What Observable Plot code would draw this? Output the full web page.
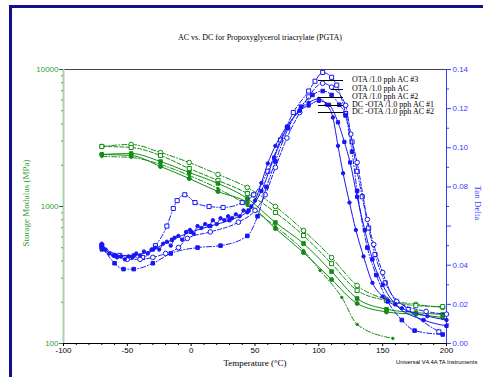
<!DOCTYPE html>
<html><head><meta charset="utf-8">
<script src="https://cdn.jsdelivr.net/npm/d3@7"></script>
<script src="https://cdn.jsdelivr.net/npm/@observablehq/plot@0.6"></script>
<style>
body{margin:0;background:#fff;overflow:hidden;}
#wrap{position:relative;width:483px;height:377px;overflow:hidden;}
#chart{position:absolute;left:0;top:0;}
.frame{position:absolute;left:9px;top:5px;width:600px;height:600px;border:3px solid #10108a;pointer-events:none;}
.t{position:absolute;font-family:"Liberation Serif","Times New Roman",serif;white-space:nowrap;line-height:1;}
.lg{position:absolute;height:0;border-top:1px solid #000;}
</style></head><body>
<div id="wrap">
<div id="chart"></div>
<div class="t" id="title" style="left:260px;top:34px;font-size:8px;transform:translateX(-50%);">AC vs. DC for Propoxyglycerol triacrylate (PGTA)</div>
<div class="t" style="left:255px;top:359px;font-size:9px;transform:translateX(-50%);">Temperature (°C)</div>
<div class="t" style="left:26px;top:203px;font-size:9px;color:#33a033;transform:translate(-50%,-50%) rotate(-90deg);">Storage Modulus (MPa)</div>
<div class="t" style="left:477px;top:203px;font-size:9px;color:#3b3bff;transform:translate(-50%,-50%) rotate(90deg);">Tan Delta</div>
<div class="t" style="left:396px;top:360px;font-size:5.8px;font-family:'Liberation Sans',Arial,sans-serif;">Universal V4.4A TA Instruments</div>
<div id="legend"></div>
<div class="frame"></div>
</div>
<script>
// ---- axis ticks ----
const xMajor = [-100, -50, 0, 50, 100, 150, 200];
const xMinor = [-90,-80,-70,-60,-40,-30,-20,-10,10,20,30,40,60,70,80,90,110,120,130,140,160,170,180,190];
const yMajor = [100, 1000, 10000];
const yMinor = [200,300,400,500,600,700,800,900,2000,3000,4000,5000,6000,7000,8000,9000];
const tanMajor = [0, 0.02, 0.04, 0.06, 0.08, 0.10, 0.12, 0.14];
const tanMinor = [0.01, 0.03, 0.05, 0.07, 0.09, 0.11, 0.13];

// ---- legend ----
const legendLabels = ["OTA /1.0 pph AC #3", "OTA /1.0 pph AC", "OTA /1.0 pph AC #2", "DC -OTA /1.0 pph AC #1", "DC -OTA /1.0 pph AC #2"];

// ---- storage modulus (MPa) ----
const greenT = [-70, -47, -24, -1.5, 21, 44, 66, 88, 110, 130, 153, 176, 197];
const g1V = [2742, 2835, 2478, 2094, 1713, 1377, 1000, 668, 424, 265, 210, 193, 183];
const g2V = [2742, 2696, 2356, 1893, 1549, 1244, 904, 614, 383, 244, 206, 189, 186];
const g3V = [2397, 2437, 2129, 1771, 1472, 1144, 764, 537, 335, 213, 178, 168, 163];
const g4V = [2397, 2356, 1960, 1600, 1286, 1069, 690, 461, 293, 196, 170, 163, 155];
const g5T = [-70, -47, -24, -1.5, 21, 44, 66, 88, 101, 118, 130, 158];
const g5V = [2317, 2279, 2027, 1684, 1353, 1016, 714, 477, 341, 217, 138, 109];

// ---- tan delta ----
const b1T = [-70,-56,-38,-28,-19,-14,-11,-5,3,14,25,40,49,60,70,80,92,97,103,110,114,121,126,130,134,139,144,152,170,194];
const b1V = [0.050,0.045,0.044,0.050,0.060,0.069,0.073,0.076,0.072,0.070,0.0695,0.072,0.076,0.088,0.104,0.118,0.129,0.134,0.1385,0.136,0.132,0.1175,0.103,0.088,0.075,0.059,0.0455,0.031,0.0174,0.006];
const b2T = [-70,-60,-50,-40,-30,-20,-10,-3,15,37,50,58,66,75,85,92,103,110,121,125,130,138,143,150,161,184,200];
const b2V = [0.049,0.045,0.043,0.043,0.044,0.046,0.049,0.0537,0.057,0.062,0.068,0.076,0.090,0.105,0.118,0.126,0.133,0.131,0.1217,0.107,0.0925,0.0634,0.0506,0.0363,0.0215,0.0164,0.015];
const b3T = [-70,-60,-53,-45,-30,-16,5,23,44,52,59,66,76,86,95,103,110,116,121,126,130,138,145,154,165,175,197];
const b3V = [0.050,0.041,0.038,0.038,0.041,0.046,0.049,0.050,0.055,0.065,0.080,0.093,0.110,0.121,0.127,0.129,0.127,0.122,0.1165,0.098,0.078,0.049,0.035,0.0215,0.012,0.0066,0.0046];
const b4T = [-70,-67,-64,-61,-58,-55,-52,-49,-46,-43,-40,-37,-34,-31,-28,-25,-22,-19,-16,-13,-10,-7,-4,-1,2,5,8,11,14,17,20,23,26,29,32,35,38,41,44,47,50,55,60,66,75,85,92,100,106,111,115,119,124,129,135,142,150,165,185,200];
const b4V = [0.051,0.048,0.046,0.045,0.044,0.0445,0.043,0.0445,0.044,0.046,0.045,0.047,0.046,0.048,0.049,0.048,0.051,0.052,0.050,0.054,0.055,0.053,0.057,0.058,0.056,0.060,0.059,0.061,0.060,0.063,0.061,0.064,0.063,0.065,0.064,0.066,0.065,0.068,0.067,0.070,0.073,0.082,0.092,0.101,0.111,0.119,0.123,0.125,0.122,0.1155,0.101,0.087,0.072,0.058,0.0445,0.031,0.024,0.018,0.014,0.012];
const b5T = [-70,-60,-45,-30,-15,0,15,30,45,55,65,75,85,92,100,108,115,120,124.5,130,136,142,150,160,182,200];
const b5V = [0.048,0.045,0.045,0.048,0.053,0.057,0.060,0.063,0.068,0.078,0.095,0.110,0.119,0.1216,0.124,0.122,0.113,0.103,0.0925,0.075,0.058,0.043,0.030,0.020,0.012,0.009];

// tan delta 0..0.14 shares the log frame 100..10000
const toY = t => 10 ** (2 + t / 0.07);
const fromY = y => (Math.log10(y) - 2) * 0.07;

const green = "#138c13", blue = "#1717f5";
const DASH = "4,2", DASHDOT = "5,2,1,2";

function rows(T, V, tan) { return T.map((t, i) => ({x: t, y: tan ? toY(V[i]) : V[i]})); }

function seriesMarks(data, color, dash, symbol, filled, r) {
  return [
    Plot.line(data, {x: "x", y: "y", stroke: color, strokeWidth: 1, strokeDasharray: dash, curve: "monotone-x"}),
    Plot.dot(data, {x: "x", y: "y", symbol, r, stroke: color, strokeWidth: 1, fill: filled ? color : "white"})
  ];
}

const chart = Plot.plot({
  width: 483, height: 377,
  marginLeft: 63, marginRight: 37, marginTop: 69, marginBottom: 34,
  x: {domain: [-100, 200]},
  y: {type: "log", domain: [100, 10000]},
  style: {fontFamily: "'Liberation Sans', Arial, sans-serif", fontSize: "8px", background: "transparent", overflow: "visible"},
  marks: [
    // frame
    Plot.ruleY([10000], {stroke: "#444"}),
    Plot.ruleY([100], {stroke: "#000"}),
    Plot.ruleX([-100], {stroke: "#a6d8a6", strokeWidth: 2}),
    Plot.ruleX([200], {stroke: "#3b3bff"}),
    // axes
    Plot.axisX({ticks: xMajor, tickSize: 3, tickPadding: 1, tickFormat: d => d, label: null, stroke: "#000", fill: "#000"}),
    Plot.axisX({ticks: xMinor, tickSize: 2, tickFormat: () => "", label: null, stroke: "#000"}),
    Plot.axisY({ticks: yMajor, tickSize: 4, tickPadding: 1, tickFormat: d => String(d), label: null, stroke: "#555", fill: "#33a033"}),
    Plot.axisY({ticks: yMinor, tickSize: 2, tickFormat: () => "", label: null, stroke: "#888"}),
    Plot.axisY({anchor: "right", ticks: tanMajor.map(toY), tickSize: 4, tickPadding: 2, tickFormat: d => fromY(d).toFixed(2), label: null, stroke: "#3b3bff", fill: "#3b3bff"}),
    Plot.axisY({anchor: "right", ticks: tanMinor.map(toY), tickSize: 2, tickFormat: () => "", label: null, stroke: "#3b3bff"}),
    // storage modulus
    ...seriesMarks(rows(greenT, g1V), green, DASHDOT, "circle", false, 2.3),
    ...seriesMarks(rows(greenT, g2V), green, DASH, "square", false, 2.3),
    ...seriesMarks(rows(greenT, g3V), green, null, "square", true, 2),
    ...seriesMarks(rows(greenT, g4V), green, null, "circle", true, 2),
    ...seriesMarks(rows(g5T, g5V), green, DASHDOT, "circle", true, 1.2),
    // tan delta
    ...seriesMarks(rows(b1T, b1V, true), blue, DASHDOT, "square", false, 2.3),
    ...seriesMarks(rows(b2T, b2V, true), blue, DASH, "circle", false, 2.3),
    ...seriesMarks(rows(b3T, b3V, true), blue, DASHDOT, "square", true, 2),
    ...seriesMarks(rows(b4T, b4V, true), blue, null, "circle", true, 1.7),
    ...seriesMarks(rows(b5T, b5V, true), blue, null, "square", true, 1.8)
  ]
});
document.getElementById("chart").appendChild(chart);

// legend texts and leader lines
const lg = document.getElementById("legend");
const legendTop = [80, 88.5, 96.5, 104.5, 112];
legendLabels.forEach((s, i) => {
  const d = document.createElement("div");
  d.className = "t";
  d.style.cssText = `left:352px;top:${legendTop[i] - 4}px;font-size:8px;`;
  d.textContent = s;
  lg.appendChild(d);
  const l = document.createElement("div");
  l.className = "lg";
  const x0 = i === 1 ? 331 : 318;
  l.style.cssText = `left:${x0}px;top:${legendTop[i]}px;width:${343 - x0}px;`;
  lg.appendChild(l);
});
</script>
</body></html>
